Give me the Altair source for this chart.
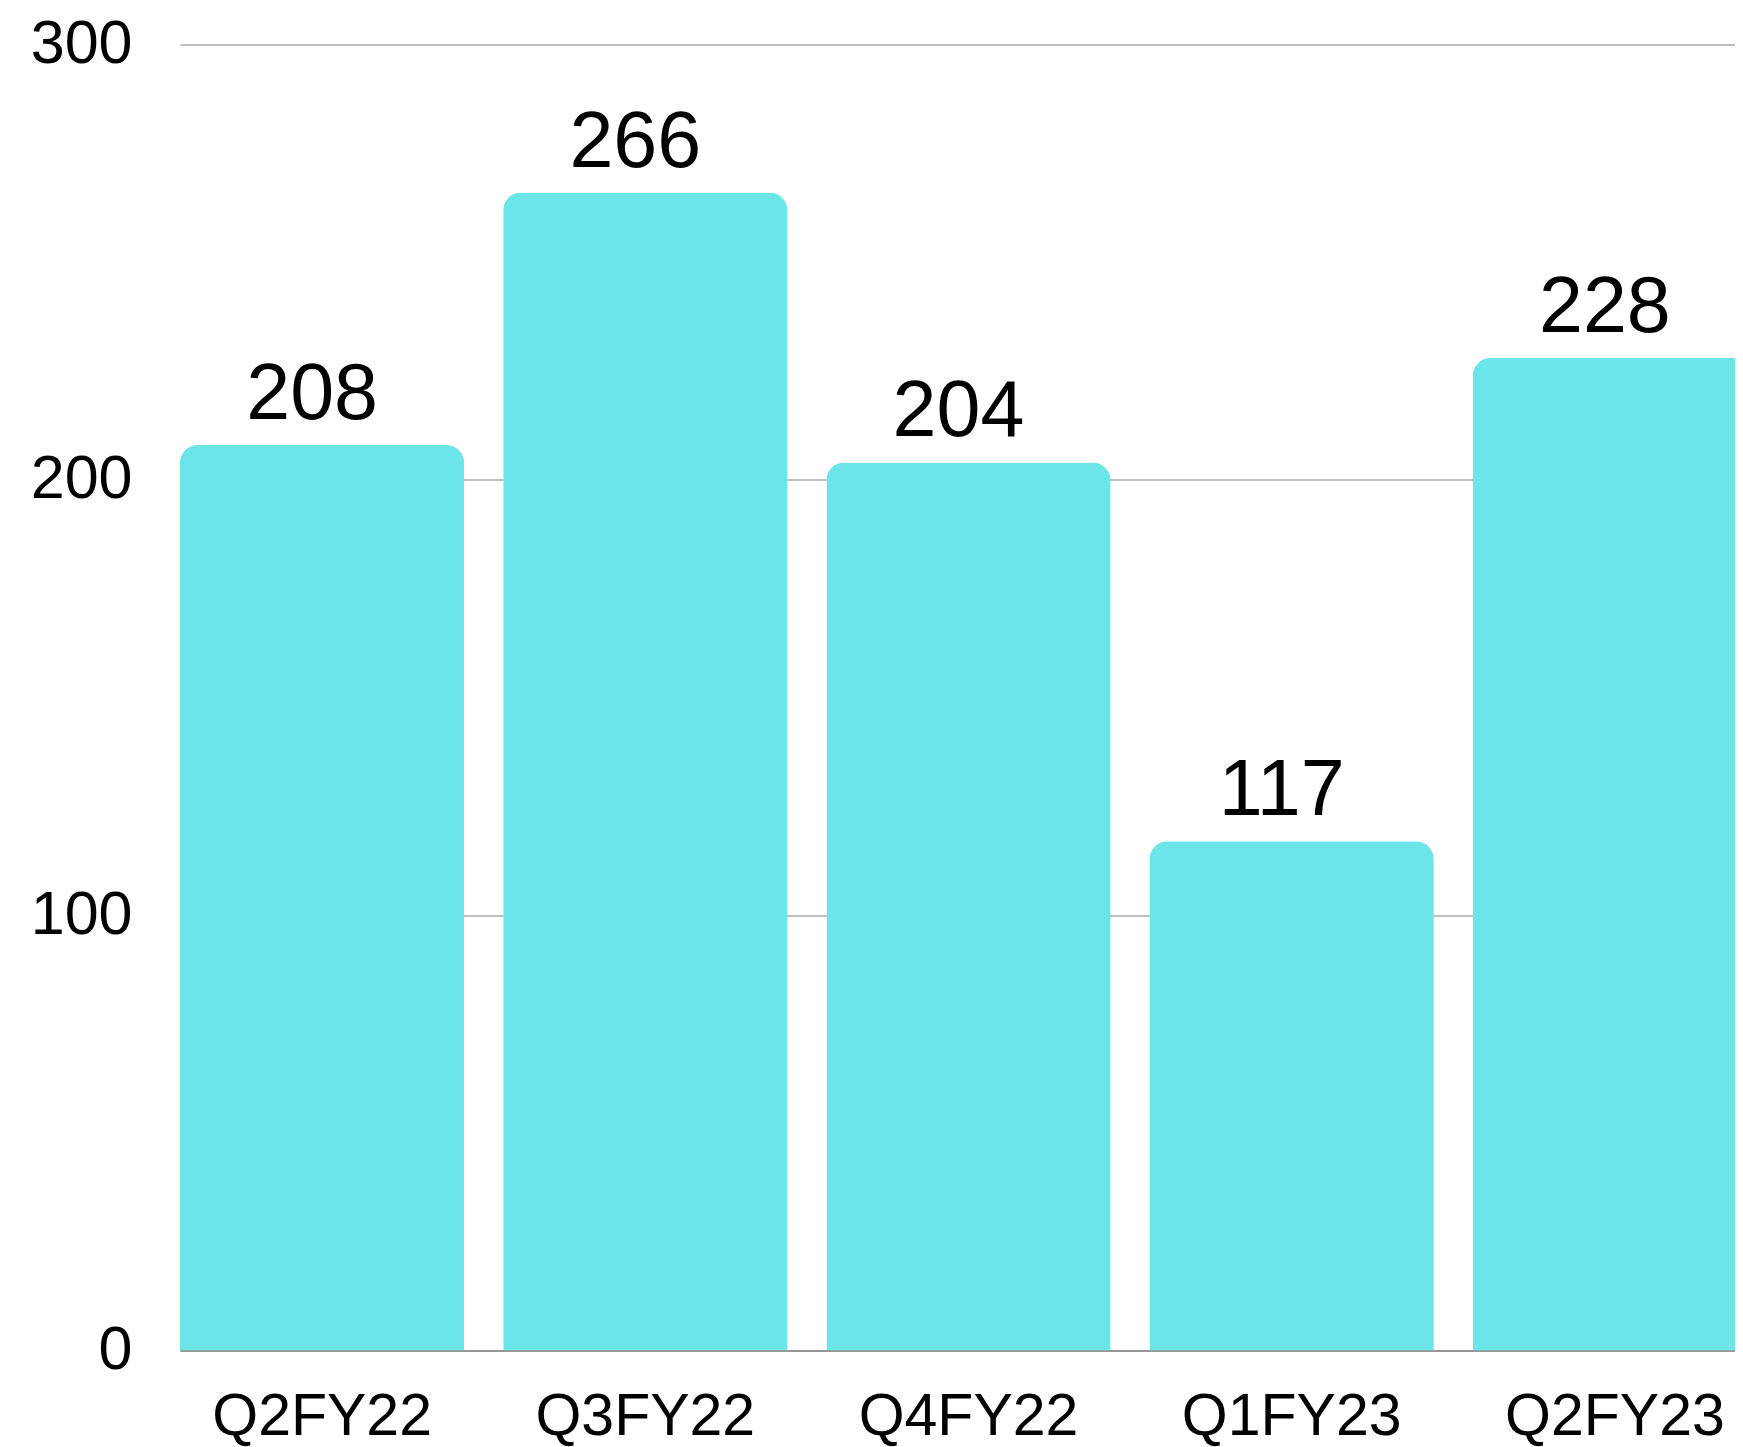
import altair as alt
import pandas as pd

quarters = ["Q2FY22", "Q3FY22", "Q4FY22", "Q1FY23", "Q2FY23"]
values = [208, 266, 204, 117, 228]

df = pd.DataFrame({"quarter": quarters, "value": values})

FONT = "Liberation Sans"

x_enc = alt.X(
    "quarter:N",
    sort=quarters,
    title=None,
    scale=alt.Scale(range=[0, 1577], paddingInner=0.1207, paddingOuter=0),
    axis=alt.Axis(
        labelAngle=0,
        labelFont=FONT,
        labelFontSize=59,
        labelColor="#000000",
        labelBaseline="alphabetic",
        labelPadding=84,
        labelLimit=0,
        ticks=False,
        tickSize=0,
        domainColor="#888888",
        domainWidth=1.5,
        grid=False,
    ),
)
y_enc = alt.Y(
    "value:Q",
    title=None,
    scale=alt.Scale(domain=[0, 300], nice=False),
    axis=alt.Axis(
        values=[0, 100, 200, 300],
        labelFont=FONT,
        labelFontSize=61,
        labelColor="#000000",
        labelPadding=48,
        ticks=False,
        tickSize=0,
        domain=False,
        grid=True,
        gridColor="#bfbfbf",
        gridWidth=2,
    ),
)

bars = alt.Chart(df).mark_bar(
    color="#6ce5e8",
    cornerRadiusTopLeft=18,
    cornerRadiusTopRight=18,
).encode(x=x_enc, y=y_enc)

labels = alt.Chart(df).mark_text(
    font=FONT,
    fontSize=79,
    color="#000000",
    baseline="alphabetic",
    dy=-26,
    dx=-10,
).encode(x=alt.X("quarter:N", sort=quarters), y="value:Q", text="value:Q")

chart = (
    alt.layer(bars, labels)
    .properties(
        width=1555,
        height=1306,
        autosize=alt.AutoSizeParams(type="none"),
        padding={"left": 172, "top": 36.5, "right": 0, "bottom": 96},
    )
    .configure_view(stroke=None)
)

chart.save("out.html", embed_options={"renderer": "svg", "actions": False})
